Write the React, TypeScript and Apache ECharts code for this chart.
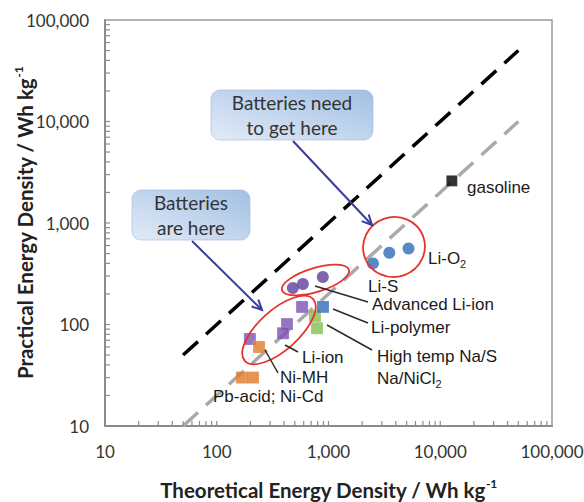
import React, { useEffect, useRef } from 'react';
import * as echarts from 'echarts';

// ---- data (Wh/kg: theoretical, practical) ----
const liO2 = [[2500, 400], [3500, 510], [5200, 560]];
const advLiIon = [[480, 229], [590, 251], [890, 294]];
const liIon = [[580, 149], [425, 101], [392, 82], [198, 72]];
const liPolymer = [[893, 149]];
const highTemp = [[757, 121], [789, 92]];
const niMH = [[239, 60]];
const pbNiCd = [[168, 30], [211, 30]];
const gasoline = [[12700, 2600]];
const targetLine = [[50, 50], [50000, 50000]];
const practicalLine = [[50, 10], [50000, 10000]];

const AXIS_MIN = 10;
const AXIS_MAX = 100000;
// log-axis tick positions (majors + 2..9 minors per decade)
const DECADES = [10, 100, 1000, 10000];
const TICK_MULTS = [1, 2, 3, 4, 5, 6, 7, 8, 9];
const TICK_VALUES = DECADES.flatMap((d) => TICK_MULTS.map((m) => d * m));

const LABEL_FONT = 'Lato, "Open Sans", sans-serif';
const ANN_FONT = '"Liberation Sans", Arial, sans-serif';
const AXIS_GRAY = '#8c8c8c';

function arrow(x1: number, y1: number, x2: number, y2: number, color: string) {
  const a = Math.atan2(y2 - y1, x2 - x1);
  const len = 11;
  const sp = 0.45;
  const p1 = [x2 - len * Math.cos(a - sp), y2 - len * Math.sin(a - sp)];
  const p2 = [x2 - len * Math.cos(a + sp), y2 - len * Math.sin(a + sp)];
  return [
    { type: 'line', shape: { x1, y1, x2, y2 }, style: { stroke: color, lineWidth: 2 }, z: 100 },
    { type: 'polyline', shape: { points: [p1, [x2, y2], p2] }, style: { stroke: color, lineWidth: 2, fill: 'none' }, z: 100 },
  ];
}

function leader(x1: number, y1: number, x2: number, y2: number) {
  return { type: 'line', shape: { x1, y1, x2, y2 }, style: { stroke: '#2b2b2b', lineWidth: 1.5 }, z: 100 };
}

function label(text: string, x: number, y: number, rich?: any) {
  return {
    type: 'text', x, y, z: 100,
    style: {
      text, fill: '#1a1a1a', fontSize: 17, fontFamily: ANN_FONT,
      align: 'left', verticalAlign: 'middle', textAlign: 'left', textVerticalAlign: 'middle',
      rich,
    },
  };
}

const subRich = {
  a: { fontSize: 17, fontFamily: ANN_FONT, fill: '#1a1a1a', color: '#1a1a1a', lineHeight: 22 },
  b: { fontSize: 11, fontFamily: ANN_FONT, fill: '#1a1a1a', color: '#1a1a1a', verticalAlign: 'bottom', lineHeight: 22 },
};

function ellipse(cx: number, cy: number, rx: number, ry: number, deg: number) {
  return {
    type: 'ellipse', x: cx, y: cy, rotation: (deg * Math.PI) / 180, z: 90,
    shape: { cx: 0, cy: 0, rx, ry },
    style: { fill: 'none', stroke: '#e8312b', lineWidth: 1.8 },
  };
}

function callout(x: number, y: number, w: number, h: number, text: string) {
  return [
    {
      type: 'rect', z: 95, shape: { x, y, width: w, height: h, r: 9 },
      style: {
        fill: {
          type: 'linear', x: 0, y: 1, x2: 1, y2: 0,
          colorStops: [{ offset: 0, color: '#e2ebf7' }, { offset: 1, color: '#a2bfe4' }],
        },
        stroke: 'rgba(160,185,220,0.6)', lineWidth: 1,
      },
    },
    {
      type: 'text', x: x + w / 2, y: y + h / 2, z: 96,
      style: {
        text, fill: '#333', fontSize: 19, fontFamily: LABEL_FONT, lineHeight: 25,
        align: 'center', verticalAlign: 'middle', textAlign: 'center', textVerticalAlign: 'middle',
      },
    },
  ];
}

function sq(name: string, data: number[][], color: string, size = 12) {
  return {
    name, type: 'scatter', data, symbol: 'rect', symbolSize: size, z: 5,
    itemStyle: { color, borderColor: 'rgba(255,255,255,0.35)', borderWidth: 0.6 },
  };
}
function ci(name: string, data: number[][], color: string, size = 12) {
  return { name, type: 'scatter', data, symbol: 'circle', symbolSize: size, z: 5, itemStyle: { color } };
}

const fmt = (v: number) => Number(v).toLocaleString('en-US');

export default function App() {
  const ref = useRef<HTMLDivElement>(null);
  useEffect(() => {
    if (!ref.current) return;
    const chart = echarts.init(ref.current, undefined, { renderer: 'svg' });
    const axisCommon = {
      type: 'log', logBase: 10, min: AXIS_MIN, max: AXIS_MAX,
      nameLocation: 'middle',
      nameMoveOverlap: false,
      axisLine: { show: true, lineStyle: { color: AXIS_GRAY, width: 2 } },
      axisTick: { show: false },
      minorTick: { show: false },
      splitLine: { show: false },
      axisLabel: { fontSize: 17, color: '#333', fontFamily: LABEL_FONT, formatter: fmt },
    };
    const titleRich = {
      t: { fontSize: 20.5, fontWeight: 'bold', fontFamily: LABEL_FONT, color: '#222', lineHeight: 26 },
      s: { fontSize: 12, fontWeight: 'bold', fontFamily: LABEL_FONT, color: '#222', verticalAlign: 'top', lineHeight: 26 },
    };
    chart.setOption({
      animation: false,
      backgroundColor: '#fff',
      grid: {
        left: 105, top: 20, right: 32, bottom: 76, show: true, borderColor: '#9a9a9a', borderWidth: 1.5,
        backgroundColor: 'transparent', containLabel: false, outerBoundsMode: 'none',
      },
      xAxis: {
        ...axisCommon,
        name: '{t|Theoretical Energy Density / Wh kg}{s|-1}',
        nameGap: 51,
        nameTextStyle: { rich: titleRich },
        axisLabel: { ...axisCommon.axisLabel, margin: 17 },
      },
      yAxis: {
        ...axisCommon,
        name: '{t|Practical Energy Density / Wh kg}{s|-1}',
        nameGap: 67,
        nameRotate: 90,
        nameTextStyle: { rich: titleRich },
        axisLabel: { ...axisCommon.axisLabel, margin: 16 },
      },
      series: [
        {
          name: 'x ticks', type: 'custom', data: TICK_VALUES.map((v) => [v, AXIS_MIN]), z: 3, silent: true, clip: false,
          renderItem: (_p: any, api: any) => {
            const pt = api.coord([api.value(0), AXIS_MIN]);
            return { type: 'line', shape: { x1: pt[0], y1: pt[1], x2: pt[0], y2: pt[1] - 5 }, style: { stroke: AXIS_GRAY, lineWidth: 1.2 } };
          },
        },
        {
          name: 'y ticks', type: 'custom', data: TICK_VALUES.map((v) => [AXIS_MIN, v]), z: 3, silent: true, clip: false,
          renderItem: (_p: any, api: any) => {
            const pt = api.coord([AXIS_MIN, api.value(1)]);
            return { type: 'line', shape: { x1: pt[0], y1: pt[1], x2: pt[0] + 5, y2: pt[1] }, style: { stroke: AXIS_GRAY, lineWidth: 1.2 } };
          },
        },
        { name: 'target', type: 'line', data: targetLine, symbol: 'none', z: 2,
          lineStyle: { color: '#000', width: 3.5, type: [20, 11], cap: 'butt' } },
        { name: 'practical', type: 'line', data: practicalLine, symbol: 'none', z: 2,
          lineStyle: { color: '#aaaaaa', width: 3.5, type: [20, 11], cap: 'butt' } },
        sq('Pb-acid; Ni-Cd', pbNiCd, '#e07a28'),
        sq('Li-ion', liIon, '#7b51b3'),
        sq('Ni-MH', niMH, '#e07a28'),
        sq('High temp Na/S, Na/NiCl2', highTemp, '#84be4c'),
        sq('Li-polymer', liPolymer, '#336bb7'),
        ci('Advanced Li-ion', advLiIon, '#5e3f98'),
        ci('Li-O2 / Li-S', liO2, '#2f6cb5'),
        sq('gasoline', gasoline, '#000', 11),
      ],
      graphic: [
        ...callout(211, 90, 162, 50, 'Batteries need\nto get here'),
        ...callout(132, 190, 118, 50, 'Batteries\nare here'),
        ...arrow(293, 141, 372, 225, '#3a3c9c'),
        ...arrow(192, 241, 262, 310, '#3a3c9c'),
        ellipse(394, 247, 31, 30, 20),
        ellipse(315.5, 280, 35, 12, 17),
        ellipse(279, 330, 46, 20, 42),
        leader(315, 286, 368, 302),
        leader(333, 309, 368, 323),
        leader(327, 325, 372, 350),
        leader(285, 345, 298, 352),
        leader(265, 350, 278, 373),
        label('gasoline', 467, 187),
        label('{a|Li-O}{b|2}', 428, 258, subRich),
        label('Li-S', 368, 286),
        label('Advanced Li-ion', 372, 304),
        label('Li-polymer', 371, 327),
        label('High temp Na/S', 377, 356),
        label('{a|Na/NiCl}{b|2}', 377, 378, subRich),
        label('Li-ion', 302, 357),
        label('Ni-MH', 280, 377),
        label('Pb-acid; Ni-Cd', 213, 396),
      ],
    });
    return () => chart.dispose();
  }, []);
  return <div ref={ref} style={{ position: 'absolute', left: 0, top: 0, width: 584, height: 502 }} />;
}
